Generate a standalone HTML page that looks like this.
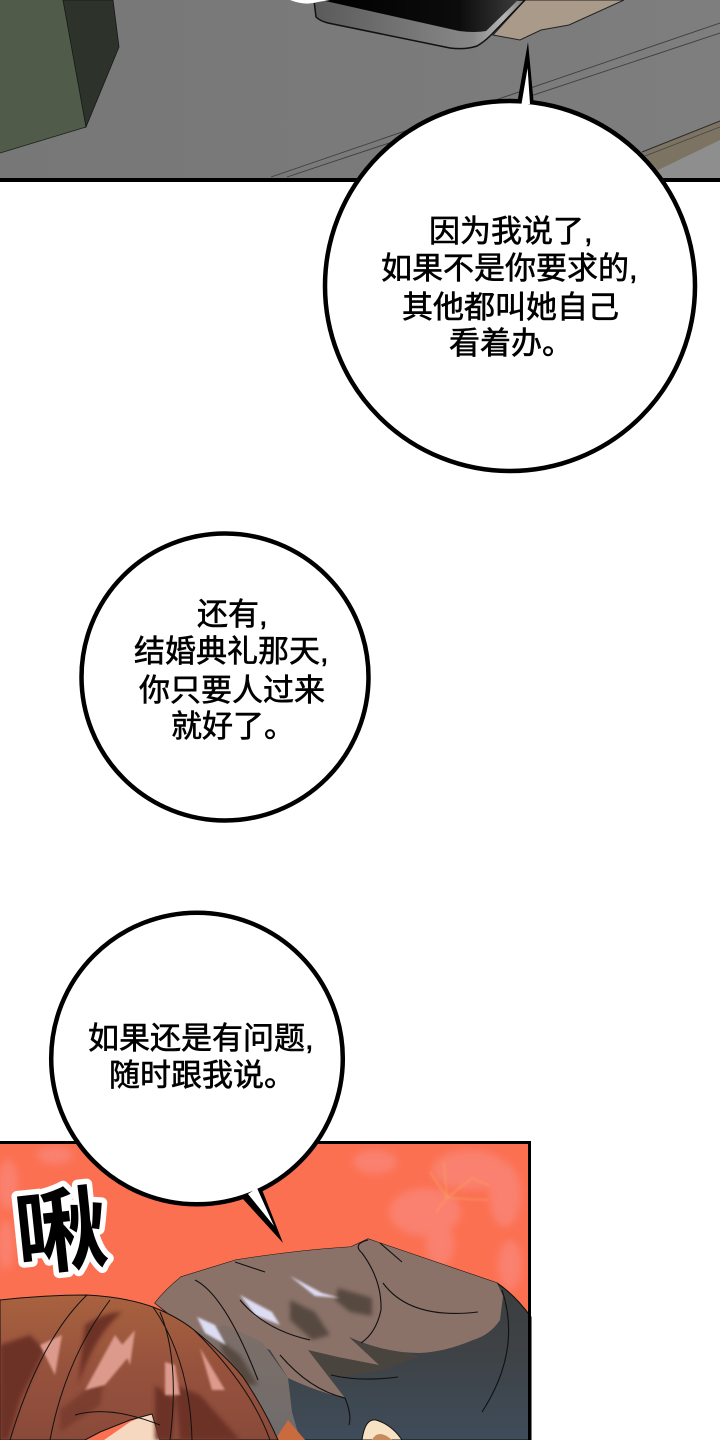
<!DOCTYPE html>
<html lang="zh"><head><meta charset="utf-8"><title>Comic page</title>
<style>
html,body{margin:0;padding:0;background:#fff;width:720px;height:1440px;overflow:hidden}
svg{display:block}
.t{font-family:"Liberation Sans","Noto Sans CJK SC",sans-serif;font-size:31px;fill:#000;stroke:#000;stroke-width:.6px}
.s{font-family:"Liberation Sans","Noto Sans CJK SC",sans-serif;font-size:92px;font-weight:700;fill:#000;stroke:#fff;stroke-width:11px;paint-order:stroke;stroke-linejoin:round}
</style></head><body>
<svg width="720" height="1440" viewBox="0 0 720 1440" xmlns="http://www.w3.org/2000/svg">
<defs>
<linearGradient id="g" x1="0" y1="0" x2="1" y2="0"><stop offset="0" stop-color="#777"/><stop offset=".5" stop-color="#7a7a7a"/><stop offset="1" stop-color="#7e7e7e"/></linearGradient>
<linearGradient id="ph" x1="0" y1="0" x2="1" y2="0"><stop offset="0" stop-color="#000"/><stop offset=".7" stop-color="#0c0c0c"/><stop offset="1" stop-color="#3a3a3a"/></linearGradient>
<linearGradient id="side" x1="0" y1="0" x2="1" y2="0"><stop offset="0" stop-color="#5a5a5a"/><stop offset=".75" stop-color="#888"/><stop offset=".9" stop-color="#b5b5b5"/><stop offset="1" stop-color="#777"/></linearGradient>
<linearGradient id="dk" x1="0" y1="0" x2="0" y2="1"><stop offset="0" stop-color="#3b3b39"/><stop offset=".6" stop-color="#3e4347"/><stop offset="1" stop-color="#3f4c5a"/></linearGradient>
<linearGradient id="br" x1="0" y1="0" x2="0" y2="1"><stop offset="0" stop-color="#a8623f"/><stop offset=".5" stop-color="#97523d"/><stop offset="1" stop-color="#8a4a3a"/></linearGradient>
<linearGradient id="gr" x1="0" y1="0" x2="0" y2="1"><stop offset="0" stop-color="#7e6f68"/><stop offset="1" stop-color="#6f6c6c"/></linearGradient>
<filter id="b1" x="-30%" y="-30%" width="160%" height="160%"><feGaussianBlur stdDeviation="2"/></filter>
<filter id="b2" x="-30%" y="-30%" width="160%" height="160%"><feGaussianBlur stdDeviation="1"/></filter>
<filter id="b3" x="-30%" y="-30%" width="160%" height="160%"><feGaussianBlur stdDeviation="4"/></filter>
</defs>

<!-- top panel -->
<rect x="0" y="0" width="720" height="178" fill="url(#g)"/>
<polygon points="658,170 720,140 720,178 650,178" fill="#8e8e8e"/>
<polygon points="642,152 720,121 720,140 658,170" fill="#7d7363"/>
<path d="M642 152L720 121" stroke="#2a2a2a" stroke-width="1" fill="none"/>
<path d="M645 156L720 127" stroke="#444" stroke-width=".8" fill="none"/>
<path d="M271 177L720 23" stroke="#3e3e3e" stroke-width=".9" fill="none"/>
<path d="M287 177L720 33" stroke="#3e3e3e" stroke-width=".9" fill="none"/>
<polygon points="0,0 63,0 86,127 0,153" fill="#505b49"/>
<polygon points="63,0 113,0 119,47 86,127" fill="#2d332b" stroke="#15171a" stroke-width=".8"/>
<path d="M0 153L86 127" stroke="#1d1f1c" stroke-width=".8" fill="none"/>

<polygon points="525,0 624,0 569,25 541,30 520,40 493,35" fill="#a99a8a" stroke="#222" stroke-width="1"/>
<path d="M314 0L316 17Q320 21 328 23L450 48Q465 50 477 46Q484 42 491 35L525 0Z" fill="url(#side)" stroke="#111" stroke-width="1.5"/>
<path d="M321 0L459 31Q475 33 486 31L518 0Z" fill="url(#ph)"/>
<path d="M290 0Q305 6 318 2L330 0Z" fill="#fff"/>

<rect x="0" y="178" width="720" height="4" fill="#000"/>

<!-- bottom panel -->
<rect x="0" y="1142" width="530" height="298" fill="#fb7051"/>
<g fill="#fa8474" filter="url(#b3)" opacity=".85">
<ellipse cx="425" cy="1212" rx="36" ry="24"/><ellipse cx="470" cy="1170" rx="38" ry="20"/><ellipse cx="375" cy="1162" rx="22" ry="12"/><ellipse cx="440" cy="1245" rx="14" ry="22"/><ellipse cx="505" cy="1195" rx="16" ry="32"/><ellipse cx="510" cy="1265" rx="12" ry="25"/>
<ellipse cx="55" cy="1155" rx="18" ry="9"/><ellipse cx="8" cy="1185" rx="10" ry="25"/><ellipse cx="6" cy="1245" rx="8" ry="25"/>
</g>
<g stroke="#f8a060" stroke-width="1.2" fill="none" opacity=".8" filter="url(#b2)">
<path d="M447 1198L444 1162M447 1198L472 1178L490 1186M447 1198L430 1172M447 1198L488 1200M447 1198L436 1212"/>
</g>
<text x="61" y="1264" class="s" text-anchor="middle" transform="rotate(-6 61 1230)">啾</text>

<!-- man hair: dark base -->
<path d="M155 1303Q165 1290 181 1277L236 1260Q300 1250 351 1247L368 1239L497 1283Q515 1295 531 1317V1440H285L240 1370L200 1340Z" fill="url(#dk)" stroke="#111" stroke-width="1.1"/>
<!-- shadow under brown -->
<path d="M308 1350L350 1340L420 1356L378 1372L330 1378Z" fill="#4a443f"/>
<!-- brown -->
<path d="M155 1303Q165 1290 181 1277L236 1260Q300 1250 351 1247L368 1239L497 1283L503 1296L500 1320Q490 1335 473 1340Q445 1352 419 1353Q385 1353 349 1337L379 1365L338 1357L308 1350L345 1398Q318 1392 288 1378L270 1350L225 1330L205 1342Z" fill="#8b7269"/>
<!-- grey strand -->
<path d="M195 1332L225 1325L262 1342L288 1378L292 1412L298 1433L285 1440H278L248 1385L215 1350Z" fill="url(#gr)"/>
<g fill="#56493f" filter="url(#b1)">
<path d="M338 1288L372 1298L372 1316L350 1312L335 1300Z"/>
<path d="M290 1300L315 1312L330 1335L312 1340L290 1320Z"/>
<path d="M220 1340L240 1355L258 1385L245 1385L222 1352Z"/>
</g>
<g fill="#dcdcf2" filter="url(#b2)">
<path d="M290 1276L322 1293L340 1298L315 1296Z"/>
<path d="M240 1295L272 1312L280 1325L255 1315Z"/>
<path d="M197 1317L215 1325L226 1345L205 1333Z"/>
</g>
<g fill="none" stroke="#111" stroke-width="1.1">
<path d="M368 1240Q352 1244 362 1253Q382 1280 381 1310Q376 1333 361 1343"/>
<path d="M195 1280Q225 1295 258 1380M383 1283Q410 1320 478 1312M235 1262L265 1272M380 1243L402 1262"/>
<path d="M240 1300Q265 1330 310 1340M280 1355Q310 1390 345 1398M345 1398Q352 1415 349 1425M502 1290Q522 1350 482 1412M331 1375Q360 1382 398 1377"/>
</g>

<!-- ear -->
<path d="M362 1440Q365 1418 376 1420Q392 1425 402 1440Z" fill="#f7e3c3" stroke="#111"/>
<path d="M372 1440Q378 1428 392 1440Z" fill="#c68a5e"/>

<!-- face -->
<path d="M104 1440L130 1422L152 1412L160 1440Z" fill="#f6d8c0"/>
<polygon points="288,1420 305,1440 275,1440" fill="#c96b3e"/>

<!-- woman hair -->
<path d="M0 1300Q45 1295 87 1295Q125 1297 153 1307Q178 1317 194 1330Q225 1355 243 1377Q265 1410 278 1440H160L152 1414L130 1420L100 1432L85 1440H0Z" fill="url(#br)" stroke="#111" stroke-width="1"/>
<g fill="#6d3026" filter="url(#b1)">
<path d="M0 1345L30 1335L45 1350L20 1400L8 1440H0Z"/>
<path d="M85 1325Q105 1312 122 1312Q95 1335 78 1385Z"/>
<path d="M175 1385L200 1395L240 1440H180Z"/>
<path d="M155 1385L175 1400L172 1440H155Z"/>
<path d="M60 1410L105 1375L100 1405L60 1432Z" opacity=".6"/>
</g>
<g fill="#dc9a8c" filter="url(#b2)">
<path d="M40 1345L62 1335L55 1375Z"/>
<path d="M85 1390L115 1335L130 1355L105 1385Z"/>
<path d="M165 1362L175 1365L180 1395L165 1395Z"/>
<path d="M200 1348L225 1390L212 1390Z"/>
<path d="M122 1345L135 1330L130 1365Z"/>
</g>
<g fill="none" stroke="#111" stroke-width="1">
<path d="M87 1295Q40 1340 10 1440M110 1300Q65 1360 50 1440M153 1307Q190 1360 192 1440M160 1312Q180 1360 170 1440M194 1330Q250 1385 270 1440M75 1415Q110 1405 160 1425"/>
</g>

<rect x="0" y="1141" width="531" height="3" fill="#000"/>
<rect x="528" y="1141" width="3" height="299" fill="#000"/>

<!-- bubble 1 -->
<polygon points="517,104 528,42 534,106" fill="#000"/>
<circle cx="510" cy="286" r="185" fill="#fff" stroke="#000" stroke-width="4.5"/>
<polygon points="521.5,104 527.6,68 530,104" fill="#fff"/>
<!-- bubble 2 -->
<circle cx="225" cy="677" r="143.5" fill="#fff" stroke="#000" stroke-width="4.5"/>
<!-- bubble 3 -->
<polygon points="243,1199 283,1243 261,1187" fill="#000"/>
<circle cx="197" cy="1058.5" r="145.8" fill="#fff" stroke="#000" stroke-width="4.5"/>
<polygon points="248,1194 274,1226 257,1188" fill="#fff"/>

<text class="t" x="429" y="242">因为我说了,</text>
<text class="t" x="381" y="279">如果不是你要求的,</text>
<text class="t" x="402" y="318">其他都叫她自己</text>
<text class="t" x="449" y="354">看着办。</text>

<text class="t" x="197" y="625">还有,</text>
<text class="t" x="134" y="662">结婚典礼那天,</text>
<text class="t" x="139" y="701">你只要人过来</text>
<text class="t" x="171" y="737">就好了。</text>

<text class="t" x="88" y="1049">如果还是有问题,</text>
<text class="t" x="109" y="1086">随时跟我说。</text>
</svg>
</body></html>
